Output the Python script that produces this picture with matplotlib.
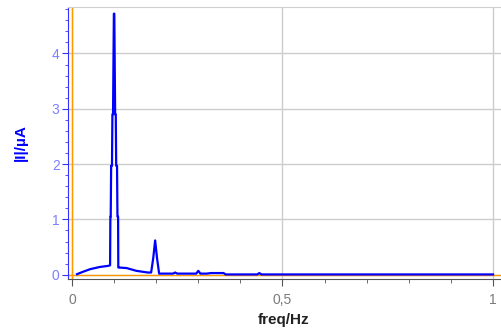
import matplotlib
matplotlib.use("Agg")
import matplotlib.pyplot as plt
from matplotlib.ticker import MultipleLocator, FuncFormatter

plt.rcParams['font.family'] = ['Liberation Sans', 'DejaVu Sans']

# amplitude spectrum |I| (uA) over frequency (Hz)
freq = [0.012, 0.025, 0.043, 0.066, 0.086, 0.0905,
        0.0912, 0.0920, 0.0930, 0.0950, 0.0960, 0.0975, 0.0985, 0.0995,
        0.1005, 0.1015, 0.1025, 0.1040, 0.1050, 0.1070, 0.1080, 0.1095, 0.1100,
        0.112, 0.130, 0.153, 0.180, 0.188, 0.193, 0.1975, 0.202, 0.207,
        0.225, 0.240, 0.245, 0.250, 0.260, 0.295, 0.300, 0.305,
        0.320, 0.330, 0.360, 0.365, 0.440, 0.445, 0.450, 1.000]
amp = [0.01, 0.05, 0.10, 0.14, 0.16, 0.17,
       1.05, 1.05, 1.97, 1.97, 2.90, 2.90, 3.82, 4.72,
       4.72, 3.82, 2.90, 2.90, 1.97, 1.97, 1.05, 1.05, 0.13,
       0.13, 0.12, 0.07, 0.04, 0.04, 0.30, 0.62, 0.30, 0.02,
       0.02, 0.02, 0.04, 0.02, 0.02, 0.02, 0.07, 0.02,
       0.02, 0.03, 0.03, 0.005, 0.005, 0.03, 0.005, 0.005]

fig = plt.figure(figsize=(5.01, 3.31), dpi=100)
ax = fig.add_axes([0.1357, 0.157, 0.8643, 0.8218])

ax.set_xlim(-0.0095, 1.019)
ax.set_ylim(-0.078, 4.84)

# grid and zero lines
ax.grid(True, which='major', color='#cccccc', linewidth=1)
ax.axvline(0, color='#ff9900', linewidth=1, zorder=2)
ax.axhline(0, color='#ff9900', linewidth=1, zorder=2)

ax.plot(freq, amp, color='#0000ff', linewidth=1.6, zorder=3)

ax.xaxis.set_major_locator(MultipleLocator(0.5))
ax.xaxis.set_minor_locator(MultipleLocator(0.1))
ax.yaxis.set_major_locator(MultipleLocator(1))
ax.yaxis.set_minor_locator(MultipleLocator(0.2))
ax.xaxis.set_major_formatter(FuncFormatter(lambda v, p: ('%g' % v).replace('.', ',')))

ax.tick_params(axis='x', which='major', length=5, color='#555555', labelcolor='#7a7a7a',
               labelsize=10, pad=5)
ax.tick_params(axis='x', which='minor', length=3, color='#555555')
ax.tick_params(axis='y', which='major', length=4, color='#3333ff', labelcolor='#7f7fff',
               labelsize=10, pad=2)
ax.tick_params(axis='y', which='minor', length=2.5, color='#3333ff')

ax.spines['left'].set_color('#3333ff')
ax.spines['bottom'].set_color('#555555')
ax.spines['top'].set_color('#d0d0d0')
ax.spines['right'].set_visible(False)

ax.set_xlabel('freq/Hz', fontsize=11, fontweight='bold', color='#222222')
ax.xaxis.set_label_coords(0.497, -0.125)
ax.set_ylabel('|I|/µA', fontsize=11, fontweight='bold', color='#0000ff')
ax.yaxis.set_label_coords(-0.092, 0.5)

fig.savefig('out.png', dpi=100)
